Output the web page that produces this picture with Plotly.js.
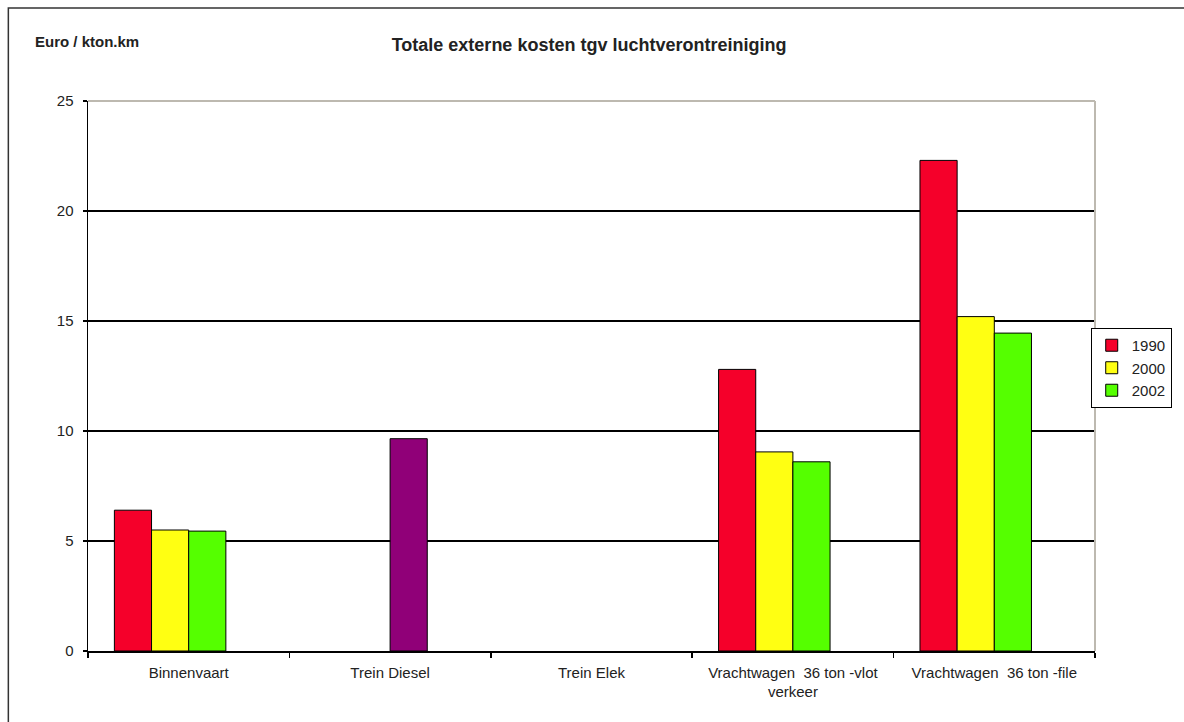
<!DOCTYPE html>
<html>
<head>
<meta charset="utf-8">
<script src="https://cdn.plot.ly/plotly-3.0.1.min.js"></script>
<style>html,body{margin:0;padding:0;background:#fff;}#chart{width:1184px;height:722px;}</style>
</head>
<body>
<div id="chart"></div>
<script>
var categories = ["Binnenvaart", "Trein Diesel", "Trein Elek", "Vrachtwagen  36 ton -vlot<br>verkeer", "Vrachtwagen  36 ton -file"];
var seriesNames = ["1990", "2000", "2002"];
var values1990 = [6.4, null, null, 12.8, 22.3];
var values2000 = [5.5, null, null, 9.05, 15.2];
var values2002 = [5.45, 9.65, null, 8.6, 14.45];
var valuesEmpty = [null, null, null, null, null];
var colors2002 = ["#55ff00", "#900078", "#55ff00", "#55ff00", "#55ff00"];

var font = "Arial, 'Liberation Sans', sans-serif";
var outline = {color: "#000", width: 1};

var traces = [
  {type: "bar", name: seriesNames[0], x: categories, y: values1990, marker: {color: "#f5002a", line: outline}},
  {type: "bar", name: seriesNames[1], x: categories, y: values2000, marker: {color: "#ffff12", line: outline}},
  {type: "bar", name: seriesNames[2], x: categories, y: values2002, marker: {color: colors2002, line: outline}},
  {type: "bar", name: "", x: categories, y: valuesEmpty, showlegend: false, marker: {color: "#ffffff", line: {width: 0}}}
];

var layout = {
  width: 1184, height: 722,
  margin: {l: 88, r: 84, t: 101, b: 71},
  paper_bgcolor: "#fff", plot_bgcolor: "#fff",
  font: {family: font, size: 14, color: "#222"},
  barmode: "group", bargap: 0.262, bargroupgap: 0,
  title: {text: "Totale externe kosten tgv luchtverontreiniging", xref: "container", x: 0.4975, xanchor: "center", y: 0.9377, yanchor: "middle",
          font: {family: font, size: 18, color: "#222", weight: "bold"}},
  xaxis: {type: "category", showline: true, linecolor: "#000", linewidth: 1.5, ticks: "outside", tickson: "boundaries",
          ticklen: 5, tickcolor: "#000", tickwidth: 1.5, showgrid: false, tickfont: {size: 15, color: "#222"}, ticklabelstandoff: 7},
  yaxis: {range: [0, 25], dtick: 5, showline: true, linecolor: "#000", linewidth: 1.5, ticks: "outside", ticklen: 4,
          tickcolor: "#000", tickwidth: 1.5, showgrid: true, gridcolor: "#000", gridwidth: 1.5, zeroline: false,
          tickfont: {size: 15, color: "#222"}, ticklabelstandoff: 6},
  legend: {x: 1.0762, xanchor: "right", y: 0.5873, yanchor: "top", bgcolor: "#fff", bordercolor: "#000", borderwidth: 1,
           font: {size: 15, color: "#222"}, itemwidth: 30, tracegroupgap: 0},
  annotations: [
    {text: "<b>Euro / kton.km</b>", xref: "paper", yref: "paper", x: -0.0544, y: 1.1073, xanchor: "left", yanchor: "middle",
     showarrow: false, font: {family: font, size: 15, color: "#222"}}
  ],
  shapes: [
    {type: "line", xref: "paper", yref: "paper", x0: 0, x1: 1, y0: 1, y1: 1, line: {color: "#bdb9b0", width: 2}, layer: "above"},
    {type: "line", xref: "paper", yref: "paper", x0: 1, x1: 1, y0: 0, y1: 1, line: {color: "#bdb9b0", width: 2}, layer: "above"},
    {type: "rect", xref: "paper", yref: "paper", x0: -0.0791, x1: 1.2, y0: -0.2, y1: 1.169, line: {color: "#333", width: 1.5}, layer: "below"}
  ]
};

Plotly.newPlot("chart", traces, layout, {displayModeBar: false, staticPlot: true});
</script>
</body>
</html>
